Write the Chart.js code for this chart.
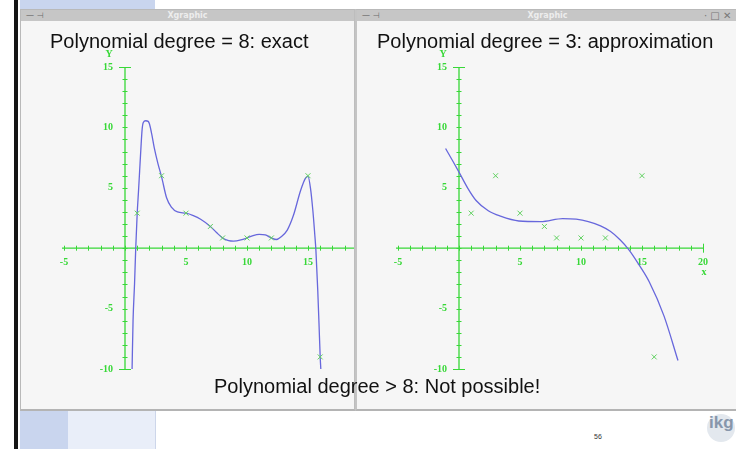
<!DOCTYPE html>
<html>
<head>
<meta charset="utf-8">
<script src="https://cdn.jsdelivr.net/npm/chart.js@4.4.1/dist/chart.umd.min.js"></script>
<style>
  html, body { margin: 0; padding: 0; }
  body { width: 736px; height: 449px; position: relative; overflow: hidden; background: #ffffff;
         font-family: "Liberation Sans", Arial, sans-serif; }
  .abs { position: absolute; }
  .win { position: absolute; top: 9px; height: 402px; background: #f6f6f6;
         border: 1px solid #b9b9b9; border-bottom: 2px solid #b4b4b4; box-sizing: border-box; overflow: hidden; }
  .bar { position: absolute; left: 0; right: 0; top: 0; height: 11px; background: #c6c6c6; }
  .bar .name { position: absolute; top: 0; width: 100%; text-align: center; font: bold 8px "DejaVu Sans", sans-serif;
               color: #ededed; line-height: 11px; }
  .bar .ico { position: absolute; top: 0; font: 8px "DejaVu Sans", sans-serif; color: #6a6a6a; line-height: 11px; }
  .plot { position: absolute; top: 10px; height: 390px; }
  .title { position: absolute; font-size: 20px; line-height: 20px; color: #111; white-space: nowrap; }
</style>
</head>
<body>
<!-- slide frame -->
<div class="abs" style="left:14px;top:0;width:4px;height:449px;background:#151515"></div>
<div class="abs" style="left:20px;top:0;width:135px;height:10px;background:#c9d5ee"></div>
<div class="abs" style="left:20px;top:411px;width:48px;height:38px;background:#c9d5ee"></div>
<div class="abs" style="left:68px;top:411px;width:87px;height:38px;background:#e9eef9"></div>
<div class="abs" style="left:155px;top:411px;width:1px;height:38px;background:#cdd6ea"></div>

<!-- left window -->
<div class="win" style="left:20px;width:336px;border-right:2px solid #bdbdbd">
  <div class="bar"><div class="ico" style="left:5px">&#8212; &#8867;</div><div class="name">Xgraphic</div></div>
  <div class="plot" style="left:0;width:334px;overflow:hidden">
    <div style="position:absolute;left:0;top:0;width:360px;height:390px"><canvas id="exactChart"></canvas></div>
  </div>
</div>

<!-- right window -->
<div class="win" style="left:355px;width:385px;border-left:2px solid #c4c4c4">
  <div class="bar"><div class="ico" style="left:5px">&#8212; &#8867;</div><div class="name" style="width:381px">Xgraphic</div>
    <div class="ico" style="left:347px;font-size:10px;color:#777">&#183; &#9633; &#10005;</div></div>
  <div class="plot" style="left:-1px;width:381px">
    <div style="position:absolute;left:0;top:0;width:381px;height:390px"><canvas id="approxChart"></canvas></div>
  </div>
</div>

<div class="title" style="left:50px;top:31px">Polynomial degree = 8: exact</div>
<div class="title" style="left:377px;top:31px">Polynomial degree = 3: approximation</div>
<div class="title" style="left:214px;top:376px">Polynomial degree &gt; 8: Not possible!</div>

<div class="abs" style="left:594px;top:433px;font-size:7px;color:#333">56</div>
<div class="abs" style="left:707px;top:414px;width:28px;height:28px;border-radius:50%;background:#e3e8ee"></div>
<div class="abs" style="left:709px;top:413px;font:bold 17px 'Liberation Sans',Arial,sans-serif;color:#8796ab">ikg</div>

<script>
// Sample points (x, y)
const pointX = [1, 3, 5, 7, 8, 10, 12, 15, 16];
const pointY = [2.9, 6, 2.9, 1.8, 0.85, 0.85, 0.85, 6, -9];

// Degree-8 interpolating polynomial, sampled along x
const exactX = [0.58, 0.66, 0.78, 0.88, 1, 1.1, 1.2, 1.3, 1.4, 1.5, 1.7, 1.9, 2.0, 2.2, 2.4, 2.7, 3, 3.4, 3.8, 4.3,
                5, 5.6, 6.2, 7, 7.5, 8, 8.5, 8.9, 9.5, 10, 10.5, 11, 11.5, 12, 12.4, 12.8, 13.3, 13.8, 14.4, 14.8,
                15, 15.2, 15.4, 15.55, 15.65, 15.8, 15.9, 16, 16.05];
const exactY = [-10, -6, -3, 0, 2.9, 4.6, 6.4, 8.2, 9.8, 10.4, 10.55, 10.5, 10.3, 9.4, 8.3, 7, 5.9, 4.2, 3.4, 3.0,
                2.9, 2.7, 2.4, 1.8, 1.3, 0.85, 0.62, 0.58, 0.68, 0.85, 1.05, 1.15, 1.1, 0.85, 0.72, 0.95, 1.5, 2.7, 4.8, 5.8,
                5.95, 5.0, 3.1, 1.2, -0.2, -3.5, -6.2, -9, -10];

// Degree-3 least-squares polynomial, sampled along x
const approxX = [-1.1, -0.5, 0, 0.7, 1.4, 2.4, 3.4, 4.9, 6.7, 8.5, 9.6, 10.6, 11.6, 12.4, 13.2, 13.9, 14.8, 15.6, 16.8, 17.95];
const approxY = [8.25, 7.2, 6.3, 5.0, 3.95, 3.1, 2.65, 2.25, 2.2, 2.45, 2.4, 2.2, 1.85, 1.4, 0.7, -0.1, -1.45, -2.8, -5.6, -9.3];

// Axis ranges and labelled ticks
const xRange = [-5, 20];
const yRange = [-10, 15];
const xTickLabels = [-5, 5, 10, 15, 20];
const yTickLabels = [15, 10, 5, -5, -10];

const GREEN = '#38d838';
const MARK_GREEN = '#5fd05f';
const CURVE = '#6767dc';

const pairs = (xs, ys) => xs.map((v, i) => ({ x: v, y: ys[i] }));

// Xgraphic-style axes crossing at the origin, with a tick cross at every integer
const crossAxes = {
  id: 'crossAxes',
  beforeDatasetsDraw(chart) {
    const { ctx, scales: { x, y } } = chart;
    const x0 = x.getPixelForValue(0);
    const y0 = y.getPixelForValue(0);
    ctx.save();
    ctx.strokeStyle = GREEN;
    ctx.lineWidth = 1.3;
    ctx.beginPath();
    ctx.moveTo(x.getPixelForValue(x.min) - 2, y0);
    ctx.lineTo(x.getPixelForValue(x.max), y0);
    ctx.moveTo(x0, y.getPixelForValue(y.max));
    ctx.lineTo(x0, y.getPixelForValue(y.min));
    ctx.stroke();
    ctx.lineWidth = 1;
    ctx.beginPath();
    for (let v = Math.ceil(x.min); v <= x.max; v++) {
      const px = Math.round(x.getPixelForValue(v)) + 0.5;
      const h = (v === x.max) ? 4.5 : 2.5;
      ctx.moveTo(px, y0 - h);
      ctx.lineTo(px, y0 + h);
    }
    for (let v = Math.ceil(y.min); v <= y.max; v++) {
      const py = Math.round(y.getPixelForValue(v)) + 0.5;
      const w = (v === y.max || v === y.min) ? 6 : 2.5;
      ctx.moveTo(x0 - w, py);
      ctx.lineTo(x0 + w, py);
    }
    ctx.stroke();

    ctx.fillStyle = GREEN;
    ctx.font = 'bold 10px "Liberation Serif", serif';
    ctx.textAlign = 'center';
    ctx.textBaseline = 'middle';
    xTickLabels.forEach(v => ctx.fillText(String(v), x.getPixelForValue(v), y0 + 14));
    ctx.textAlign = 'right';
    yTickLabels.forEach(v => ctx.fillText(String(v), x0 - 12, y.getPixelForValue(v)));
    ctx.textAlign = 'center';
    ctx.fillText('Y', x0 - 16, y.getPixelForValue(y.max) - 13);
    ctx.fillText('x', x.getPixelForValue(x.max) + 1, y0 + 24);
    ctx.restore();
  }
};

function makeChart(id, curveX, curveY, pad) {
  return new Chart(document.getElementById(id), {
    type: 'scatter',
    data: {
      datasets: [
        {
          data: pairs(curveX, curveY),
          showLine: true,
          borderColor: CURVE,
          borderWidth: 1.3,
          pointRadius: 0,
          cubicInterpolationMode: 'monotone',
          order: 2
        },
        {
          data: pairs(pointX, pointY),
          pointStyle: 'crossRot',
          pointRadius: 3.5,
          borderColor: MARK_GREEN,
          borderWidth: 1,
          backgroundColor: MARK_GREEN,
          order: 1
        }
      ]
    },
    options: {
      responsive: true,
      maintainAspectRatio: false,
      animation: false,
      layout: { padding: pad },
      plugins: { legend: { display: false }, tooltip: { enabled: false } },
      scales: {
        x: {
          type: 'linear', min: xRange[0], max: xRange[1], position: { y: 0 },
          ticks: { display: false, stepSize: 1 },
          grid: { display: false }, border: { display: false }
        },
        y: {
          type: 'linear', min: yRange[0], max: yRange[1], position: { x: 0 },
          ticks: { display: false, stepSize: 1 },
          grid: { display: false }, border: { display: false }
        }
      }
    },
    plugins: [crossAxes]
  });
}

makeChart('exactChart', exactX, exactY, { left: 43, right: 12, top: 47, bottom: 41 });
makeChart('approxChart', approxX, approxY, { left: 42, right: 34, top: 47, bottom: 41 });
</script>
</body>
</html>
